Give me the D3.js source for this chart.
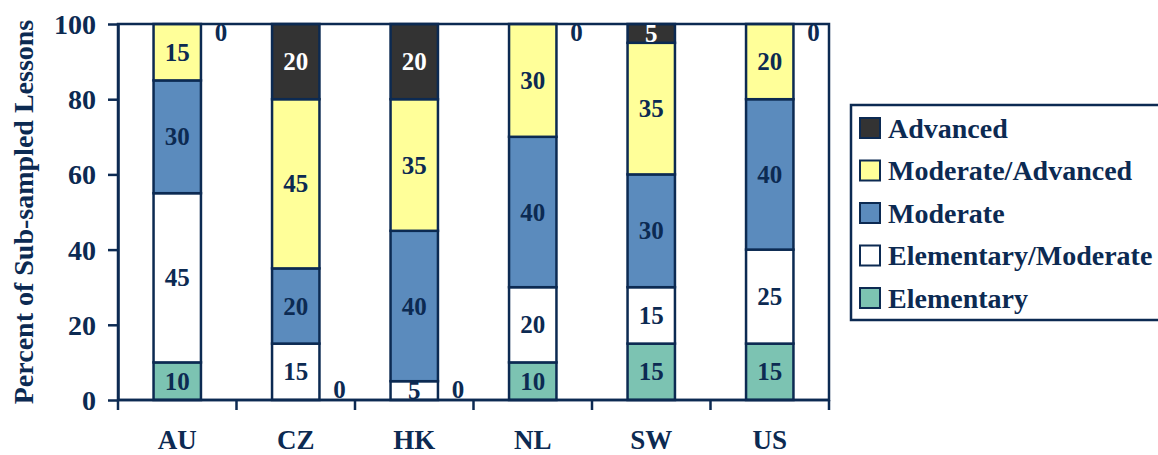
<!DOCTYPE html>
<html>
<head>
<meta charset="utf-8">
<script src="https://cdn.jsdelivr.net/npm/d3@7"></script>
<style>
  html, body { margin: 0; padding: 0; background: #fff; }
  svg { display: block; }
  text { font-family: "Liberation Serif", "Times New Roman", serif; font-weight: bold; }
</style>
</head>
<body>
<svg id="chart" width="1158" height="455"></svg>
<script>
// Countries and percentage of lessons at each level (bottom to top of each stack)
const countries = ["AU", "CZ", "HK", "NL", "SW", "US"];
const levels = ["Elementary", "Elementary/Moderate", "Moderate", "Moderate/Advanced", "Advanced"];
const elementary         = [10, 0, 0, 10, 15, 15];
const elementaryModerate = [45, 15, 5, 20, 15, 25];
const moderate           = [30, 20, 40, 40, 30, 40];
const moderateAdvanced   = [15, 45, 35, 30, 35, 20];
const advanced           = [0, 20, 20, 0, 5, 0];
const yTicks = [0, 20, 40, 60, 80, 100];
const levelColors = ["#7cc3b2", "#ffffff", "#5b8bbd", "#ffff99", "#333333"];
const labelColors = ["#0c2a52", "#0c2a52", "#0c2a52", "#0c2a52", "#ffffff"];

const navy = "#0c2a52";
const seriesValues = [elementary, elementaryModerate, moderate, moderateAdvanced, advanced];

const rows = countries.map((c, i) => {
  const r = { country: c };
  levels.forEach((l, k) => { r[l] = seriesValues[k][i]; });
  return r;
});
const stacked = d3.stack().keys(levels)(rows);

const svg = d3.select("#chart");
const plot = { left: 118, right: 829, top: 24, bottom: 400 };

const x = d3.scaleBand()
  .domain(countries)
  .range([plot.left, plot.right])
  .paddingInner(0.6)
  .paddingOuter(0.3);
const y = d3.scaleLinear().domain([0, 100]).range([plot.bottom, plot.top]);

// Bars
const layers = svg.append("g").selectAll("g")
  .data(stacked).join("g")
  .attr("fill", (d, k) => levelColors[k]);

layers.selectAll("rect")
  .data(d => d.filter(s => s[1] - s[0] > 0))
  .join("rect")
  .attr("x", s => x(s.data.country))
  .attr("width", x.bandwidth())
  .attr("y", s => y(s[1]))
  .attr("height", s => y(s[0]) - y(s[1]))
  .attr("stroke", navy)
  .attr("stroke-width", 2.5);

// Plot frame and axes
const step = x.step();
svg.append("rect")
  .attr("x", plot.left).attr("y", plot.top)
  .attr("width", plot.right - plot.left).attr("height", plot.bottom - plot.top)
  .attr("fill", "none").attr("stroke", navy).attr("stroke-width", 2.5);

const yAxis = svg.append("g").attr("transform", `translate(${plot.left},0)`)
  .call(d3.axisLeft(y).tickValues(yTicks).tickSize(10).tickSizeOuter(0).tickPadding(12));
yAxis.select(".domain").attr("stroke", navy).attr("stroke-width", 2.5);
yAxis.selectAll(".tick line").attr("stroke", navy).attr("stroke-width", 2.5);
yAxis.selectAll(".tick text")
  .attr("fill", navy).attr("font-size", 28).attr("dy", "0.34em")
  .style("font-family", "'Liberation Serif', serif").style("font-weight", "bold");

// Category boundary ticks and labels along the bottom
const xAxis = svg.append("g").attr("transform", `translate(0,${plot.bottom})`);
xAxis.append("line")
  .attr("x1", plot.left).attr("x2", plot.right)
  .attr("stroke", navy).attr("stroke-width", 2.5);
const boundaries = d3.range(countries.length + 1).map(i => plot.left + i * step);
xAxis.selectAll(".bt").data(boundaries).join("line")
  .attr("class", "bt")
  .attr("x1", d => d).attr("x2", d => d)
  .attr("y1", 0).attr("y2", 10)
  .attr("stroke", navy).attr("stroke-width", 2.5);
xAxis.selectAll(".cl").data(countries).join("text")
  .attr("class", "cl")
  .attr("x", c => x(c) + x.bandwidth() / 2)
  .attr("y", 48.5)
  .attr("text-anchor", "middle")
  .attr("font-size", 27)
  .attr("fill", navy)
  .text(c => c);

// Value labels; empty segments are labelled beside the bar
const labels = svg.append("g");
stacked.forEach((layer, k) => {
  layer.forEach(s => {
    const v = s[1] - s[0];
    const bx = x(s.data.country);
    let lx, ly, col;
    if (v > 0) {
      lx = bx + x.bandwidth() / 2;
      ly = (y(s[0]) + y(s[1])) / 2;
      col = labelColors[k];
    } else {
      lx = bx + x.bandwidth() + 20;
      ly = Math.min(Math.max(y(s[0]), plot.top + 8), plot.bottom - 11);
      col = navy;
    }
    labels.append("text")
      .attr("x", lx).attr("y", ly).attr("dy", "0.34em")
      .attr("text-anchor", "middle")
      .attr("font-size", 25)
      .attr("fill", col)
      .text(v);
  });
});

// Y axis title
svg.append("text")
  .attr("transform", `translate(33,212) rotate(-90)`)
  .attr("text-anchor", "middle")
  .attr("font-size", 28)
  .attr("fill", navy)
  .text("Percent of Sub-sampled Lessons");

// Legend (top entry is the top of the stack)
const legend = svg.append("g");
legend.append("rect")
  .attr("x", 851).attr("y", 105).attr("width", 340).attr("height", 215)
  .attr("fill", "#fff").attr("stroke", navy).attr("stroke-width", 2.5);
const legendOrder = levels.map((l, k) => k).reverse();
const legendY = d3.scalePoint().domain(legendOrder).range([128, 298]);
const items = legend.selectAll(".li").data(legendOrder).join("g")
  .attr("class", "li")
  .attr("transform", k => `translate(860,${legendY(k)})`);
items.append("rect")
  .attr("x", 0).attr("y", -10).attr("width", 20).attr("height", 20)
  .attr("fill", k => levelColors[k])
  .attr("stroke", navy).attr("stroke-width", 2);
items.append("text")
  .attr("x", 28).attr("y", 0).attr("dy", "0.34em")
  .attr("font-size", 28)
  .attr("fill", navy)
  .text(k => levels[k]);
</script>
</body>
</html>
